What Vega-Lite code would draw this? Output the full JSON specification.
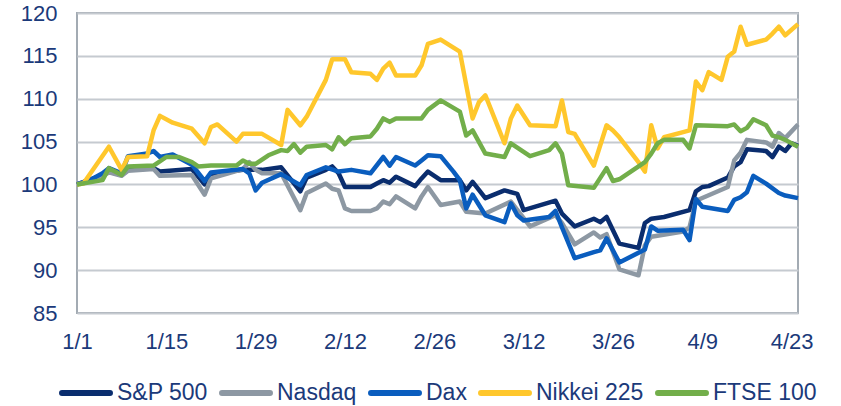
{
  "$schema": "https://vega.github.io/schema/vega-lite/v6.json",
  "width": 721,
  "height": 300,
  "autosize": {"type": "none"},
  "padding": {"left": 77, "top": 13, "right": 43, "bottom": 93},
  "background": "white",
  "config": {"view": {"stroke": "#A3ABB3", "strokeWidth": 2}, "font": "Liberation Sans"},
  "data": {"values": [
    {"s":"S&P 500","d":"2025-01-01","v":100},{"s":"S&P 500","d":"2025-01-05","v":101.1},{"s":"S&P 500","d":"2025-01-06","v":101.5},{"s":"S&P 500","d":"2025-01-08","v":101.1},{"s":"S&P 500","d":"2025-01-09","v":101.7},{"s":"S&P 500","d":"2025-01-13","v":101.9},{"s":"S&P 500","d":"2025-01-14","v":101.5},{"s":"S&P 500","d":"2025-01-19","v":101.8},{"s":"S&P 500","d":"2025-01-21","v":100.0},{"s":"S&P 500","d":"2025-01-22","v":101.2},{"s":"S&P 500","d":"2025-01-27","v":101.7},{"s":"S&P 500","d":"2025-01-30","v":101.7},{"s":"S&P 500","d":"2025-02-02","v":102.0},{"s":"S&P 500","d":"2025-02-05","v":99.2},{"s":"S&P 500","d":"2025-02-06","v":100.8},{"s":"S&P 500","d":"2025-02-09","v":101.7},{"s":"S&P 500","d":"2025-02-10","v":102.1},{"s":"S&P 500","d":"2025-02-11","v":101.3},{"s":"S&P 500","d":"2025-02-12","v":99.7},{"s":"S&P 500","d":"2025-02-16","v":99.7},{"s":"S&P 500","d":"2025-02-17","v":100.1},{"s":"S&P 500","d":"2025-02-18","v":100.5},{"s":"S&P 500","d":"2025-02-19","v":100.2},{"s":"S&P 500","d":"2025-02-20","v":100.9},{"s":"S&P 500","d":"2025-02-23","v":99.8},{"s":"S&P 500","d":"2025-02-24","v":100.7},{"s":"S&P 500","d":"2025-02-25","v":101.5},{"s":"S&P 500","d":"2025-02-27","v":100.5},{"s":"S&P 500","d":"2025-03-02","v":100.5},{"s":"S&P 500","d":"2025-03-03","v":99.3},{"s":"S&P 500","d":"2025-03-04","v":100.3},{"s":"S&P 500","d":"2025-03-06","v":98.4},{"s":"S&P 500","d":"2025-03-09","v":99.3},{"s":"S&P 500","d":"2025-03-11","v":98.9},{"s":"S&P 500","d":"2025-03-12","v":97.0},{"s":"S&P 500","d":"2025-03-17","v":98.1},{"s":"S&P 500","d":"2025-03-18","v":96.6},{"s":"S&P 500","d":"2025-03-20","v":95.1},{"s":"S&P 500","d":"2025-03-23","v":96.0},{"s":"S&P 500","d":"2025-03-24","v":95.6},{"s":"S&P 500","d":"2025-03-25","v":96.2},{"s":"S&P 500","d":"2025-03-27","v":93.1},{"s":"S&P 500","d":"2025-03-30","v":92.6},{"s":"S&P 500","d":"2025-03-31","v":95.5},{"s":"S&P 500","d":"2025-04-01","v":96.0},{"s":"S&P 500","d":"2025-04-03","v":96.2},{"s":"S&P 500","d":"2025-04-07","v":97.0},{"s":"S&P 500","d":"2025-04-08","v":99.2},{"s":"S&P 500","d":"2025-04-09","v":99.7},{"s":"S&P 500","d":"2025-04-10","v":99.8},{"s":"S&P 500","d":"2025-04-13","v":100.8},{"s":"S&P 500","d":"2025-04-14","v":102.1},{"s":"S&P 500","d":"2025-04-15","v":102.6},{"s":"S&P 500","d":"2025-04-16","v":104.1},{"s":"S&P 500","d":"2025-04-19","v":103.9},{"s":"S&P 500","d":"2025-04-20","v":103.2},{"s":"S&P 500","d":"2025-04-21","v":104.4},{"s":"S&P 500","d":"2025-04-22","v":103.9},{"s":"S&P 500","d":"2025-04-23","v":104.8},{"s":"S&P 500","d":"2025-04-24","v":104.5},

    {"s":"Nasdaq","d":"2025-01-01","v":100},{"s":"Nasdaq","d":"2025-01-05","v":101.0},{"s":"Nasdaq","d":"2025-01-06","v":101.4},{"s":"Nasdaq","d":"2025-01-08","v":101.0},{"s":"Nasdaq","d":"2025-01-09","v":101.6},{"s":"Nasdaq","d":"2025-01-13","v":101.8},{"s":"Nasdaq","d":"2025-01-14","v":101.0},{"s":"Nasdaq","d":"2025-01-19","v":101.1},{"s":"Nasdaq","d":"2025-01-21","v":98.8},{"s":"Nasdaq","d":"2025-01-22","v":100.7},{"s":"Nasdaq","d":"2025-01-27","v":101.8},{"s":"Nasdaq","d":"2025-01-28","v":102.6},{"s":"Nasdaq","d":"2025-01-29","v":101.7},{"s":"Nasdaq","d":"2025-01-30","v":101.3},{"s":"Nasdaq","d":"2025-02-02","v":101.3},{"s":"Nasdaq","d":"2025-02-05","v":97.0},{"s":"Nasdaq","d":"2025-02-06","v":99.0},{"s":"Nasdaq","d":"2025-02-09","v":100.1},{"s":"Nasdaq","d":"2025-02-10","v":99.5},{"s":"Nasdaq","d":"2025-02-11","v":99.3},{"s":"Nasdaq","d":"2025-02-12","v":97.2},{"s":"Nasdaq","d":"2025-02-13","v":96.9},{"s":"Nasdaq","d":"2025-02-16","v":96.9},{"s":"Nasdaq","d":"2025-02-17","v":97.2},{"s":"Nasdaq","d":"2025-02-18","v":98.0},{"s":"Nasdaq","d":"2025-02-19","v":97.7},{"s":"Nasdaq","d":"2025-02-20","v":98.6},{"s":"Nasdaq","d":"2025-02-23","v":97.2},{"s":"Nasdaq","d":"2025-02-24","v":98.6},{"s":"Nasdaq","d":"2025-02-25","v":99.7},{"s":"Nasdaq","d":"2025-02-27","v":97.6},{"s":"Nasdaq","d":"2025-03-02","v":98.0},{"s":"Nasdaq","d":"2025-03-03","v":96.8},{"s":"Nasdaq","d":"2025-03-06","v":96.6},{"s":"Nasdaq","d":"2025-03-10","v":98.0},{"s":"Nasdaq","d":"2025-03-13","v":95.1},{"s":"Nasdaq","d":"2025-03-17","v":96.4},{"s":"Nasdaq","d":"2025-03-18","v":95.5},{"s":"Nasdaq","d":"2025-03-20","v":93.0},{"s":"Nasdaq","d":"2025-03-23","v":94.4},{"s":"Nasdaq","d":"2025-03-24","v":93.8},{"s":"Nasdaq","d":"2025-03-25","v":94.2},{"s":"Nasdaq","d":"2025-03-27","v":90.1},{"s":"Nasdaq","d":"2025-03-30","v":89.4},{"s":"Nasdaq","d":"2025-03-31","v":92.9},{"s":"Nasdaq","d":"2025-04-01","v":93.9},{"s":"Nasdaq","d":"2025-04-06","v":94.5},{"s":"Nasdaq","d":"2025-04-07","v":95.0},{"s":"Nasdaq","d":"2025-04-08","v":98.1},{"s":"Nasdaq","d":"2025-04-13","v":99.7},{"s":"Nasdaq","d":"2025-04-14","v":102.8},{"s":"Nasdaq","d":"2025-04-15","v":103.7},{"s":"Nasdaq","d":"2025-04-16","v":105.2},{"s":"Nasdaq","d":"2025-04-19","v":104.9},{"s":"Nasdaq","d":"2025-04-20","v":104.4},{"s":"Nasdaq","d":"2025-04-21","v":106.0},{"s":"Nasdaq","d":"2025-04-22","v":105.4},{"s":"Nasdaq","d":"2025-04-24","v":107.0},

    {"s":"Dax","d":"2025-01-01","v":100},{"s":"Dax","d":"2025-01-03","v":100.5},{"s":"Dax","d":"2025-01-05","v":101.3},{"s":"Dax","d":"2025-01-06","v":101.9},{"s":"Dax","d":"2025-01-08","v":101.3},{"s":"Dax","d":"2025-01-09","v":103.3},{"s":"Dax","d":"2025-01-12","v":103.6},{"s":"Dax","d":"2025-01-13","v":103.9},{"s":"Dax","d":"2025-01-14","v":103.2},{"s":"Dax","d":"2025-01-16","v":103.5},{"s":"Dax","d":"2025-01-19","v":102.3},{"s":"Dax","d":"2025-01-21","v":100.4},{"s":"Dax","d":"2025-01-22","v":101.4},{"s":"Dax","d":"2025-01-27","v":101.8},{"s":"Dax","d":"2025-01-28","v":101.3},{"s":"Dax","d":"2025-01-29","v":99.3},{"s":"Dax","d":"2025-01-30","v":100.2},{"s":"Dax","d":"2025-02-02","v":101.2},{"s":"Dax","d":"2025-02-05","v":99.9},{"s":"Dax","d":"2025-02-06","v":101.1},{"s":"Dax","d":"2025-02-09","v":102.0},{"s":"Dax","d":"2025-02-11","v":101.5},{"s":"Dax","d":"2025-02-13","v":101.7},{"s":"Dax","d":"2025-02-16","v":101.3},{"s":"Dax","d":"2025-02-18","v":103.2},{"s":"Dax","d":"2025-02-19","v":102.2},{"s":"Dax","d":"2025-02-20","v":103.2},{"s":"Dax","d":"2025-02-23","v":102.2},{"s":"Dax","d":"2025-02-24","v":102.8},{"s":"Dax","d":"2025-02-25","v":103.4},{"s":"Dax","d":"2025-02-27","v":103.3},{"s":"Dax","d":"2025-03-01","v":101.5},{"s":"Dax","d":"2025-03-02","v":100.5},{"s":"Dax","d":"2025-03-03","v":97.2},{"s":"Dax","d":"2025-03-04","v":98.8},{"s":"Dax","d":"2025-03-06","v":96.4},{"s":"Dax","d":"2025-03-09","v":95.6},{"s":"Dax","d":"2025-03-10","v":97.8},{"s":"Dax","d":"2025-03-11","v":96.4},{"s":"Dax","d":"2025-03-12","v":95.8},{"s":"Dax","d":"2025-03-16","v":96.2},{"s":"Dax","d":"2025-03-17","v":96.9},{"s":"Dax","d":"2025-03-18","v":95.0},{"s":"Dax","d":"2025-03-20","v":91.4},{"s":"Dax","d":"2025-03-23","v":92.1},{"s":"Dax","d":"2025-03-24","v":92.3},{"s":"Dax","d":"2025-03-25","v":93.7},{"s":"Dax","d":"2025-03-27","v":90.9},{"s":"Dax","d":"2025-03-31","v":92.4},{"s":"Dax","d":"2025-04-01","v":95.1},{"s":"Dax","d":"2025-04-02","v":94.6},{"s":"Dax","d":"2025-04-06","v":94.7},{"s":"Dax","d":"2025-04-07","v":93.5},{"s":"Dax","d":"2025-04-08","v":98.3},{"s":"Dax","d":"2025-04-09","v":97.4},{"s":"Dax","d":"2025-04-13","v":96.9},{"s":"Dax","d":"2025-04-14","v":98.2},{"s":"Dax","d":"2025-04-15","v":98.5},{"s":"Dax","d":"2025-04-16","v":99.1},{"s":"Dax","d":"2025-04-17","v":101.0},{"s":"Dax","d":"2025-04-19","v":100.1},{"s":"Dax","d":"2025-04-21","v":99.0},{"s":"Dax","d":"2025-04-22","v":98.7},{"s":"Dax","d":"2025-04-24","v":98.4},

    {"s":"Nikkei 225","d":"2025-01-01","v":100},{"s":"Nikkei 225","d":"2025-01-02","v":100.1},{"s":"Nikkei 225","d":"2025-01-06","v":104.4},{"s":"Nikkei 225","d":"2025-01-08","v":101.7},{"s":"Nikkei 225","d":"2025-01-09","v":103.2},{"s":"Nikkei 225","d":"2025-01-12","v":103.3},{"s":"Nikkei 225","d":"2025-01-13","v":106.3},{"s":"Nikkei 225","d":"2025-01-14","v":108.0},{"s":"Nikkei 225","d":"2025-01-16","v":107.2},{"s":"Nikkei 225","d":"2025-01-19","v":106.5},{"s":"Nikkei 225","d":"2025-01-21","v":104.8},{"s":"Nikkei 225","d":"2025-01-22","v":106.7},{"s":"Nikkei 225","d":"2025-01-23","v":107.0},{"s":"Nikkei 225","d":"2025-01-26","v":105.0},{"s":"Nikkei 225","d":"2025-01-27","v":105.9},{"s":"Nikkei 225","d":"2025-01-30","v":105.9},{"s":"Nikkei 225","d":"2025-02-02","v":104.6},{"s":"Nikkei 225","d":"2025-02-03","v":108.7},{"s":"Nikkei 225","d":"2025-02-05","v":106.9},{"s":"Nikkei 225","d":"2025-02-06","v":107.9},{"s":"Nikkei 225","d":"2025-02-09","v":112.2},{"s":"Nikkei 225","d":"2025-02-10","v":114.6},{"s":"Nikkei 225","d":"2025-02-12","v":114.6},{"s":"Nikkei 225","d":"2025-02-13","v":113.1},{"s":"Nikkei 225","d":"2025-02-16","v":112.9},{"s":"Nikkei 225","d":"2025-02-17","v":112.2},{"s":"Nikkei 225","d":"2025-02-18","v":113.5},{"s":"Nikkei 225","d":"2025-02-19","v":114.2},{"s":"Nikkei 225","d":"2025-02-20","v":112.7},{"s":"Nikkei 225","d":"2025-02-23","v":112.7},{"s":"Nikkei 225","d":"2025-02-24","v":113.9},{"s":"Nikkei 225","d":"2025-02-25","v":116.4},{"s":"Nikkei 225","d":"2025-02-27","v":116.9},{"s":"Nikkei 225","d":"2025-03-02","v":115.5},{"s":"Nikkei 225","d":"2025-03-04","v":107.7},{"s":"Nikkei 225","d":"2025-03-05","v":109.6},{"s":"Nikkei 225","d":"2025-03-06","v":110.4},{"s":"Nikkei 225","d":"2025-03-09","v":104.8},{"s":"Nikkei 225","d":"2025-03-10","v":107.7},{"s":"Nikkei 225","d":"2025-03-11","v":109.2},{"s":"Nikkei 225","d":"2025-03-13","v":106.9},{"s":"Nikkei 225","d":"2025-03-17","v":106.8},{"s":"Nikkei 225","d":"2025-03-18","v":109.8},{"s":"Nikkei 225","d":"2025-03-19","v":106.1},{"s":"Nikkei 225","d":"2025-03-20","v":105.9},{"s":"Nikkei 225","d":"2025-03-23","v":102.2},{"s":"Nikkei 225","d":"2025-03-25","v":106.9},{"s":"Nikkei 225","d":"2025-03-26","v":106.3},{"s":"Nikkei 225","d":"2025-03-27","v":105.5},{"s":"Nikkei 225","d":"2025-03-30","v":102.6},{"s":"Nikkei 225","d":"2025-03-31","v":101.5},{"s":"Nikkei 225","d":"2025-04-01","v":106.9},{"s":"Nikkei 225","d":"2025-04-02","v":104.2},{"s":"Nikkei 225","d":"2025-04-03","v":105.5},{"s":"Nikkei 225","d":"2025-04-06","v":106.1},{"s":"Nikkei 225","d":"2025-04-07","v":106.3},{"s":"Nikkei 225","d":"2025-04-08","v":112.0},{"s":"Nikkei 225","d":"2025-04-09","v":111.0},{"s":"Nikkei 225","d":"2025-04-10","v":113.1},{"s":"Nikkei 225","d":"2025-04-12","v":112.2},{"s":"Nikkei 225","d":"2025-04-13","v":114.9},{"s":"Nikkei 225","d":"2025-04-14","v":115.5},{"s":"Nikkei 225","d":"2025-04-15","v":118.4},{"s":"Nikkei 225","d":"2025-04-16","v":116.3},{"s":"Nikkei 225","d":"2025-04-19","v":116.9},{"s":"Nikkei 225","d":"2025-04-20","v":117.6},{"s":"Nikkei 225","d":"2025-04-21","v":118.4},{"s":"Nikkei 225","d":"2025-04-22","v":117.4},{"s":"Nikkei 225","d":"2025-04-24","v":118.7},

    {"s":"FTSE 100","d":"2025-01-01","v":100},{"s":"FTSE 100","d":"2025-01-05","v":100.5},{"s":"FTSE 100","d":"2025-01-06","v":101.9},{"s":"FTSE 100","d":"2025-01-08","v":101.1},{"s":"FTSE 100","d":"2025-01-09","v":102.1},{"s":"FTSE 100","d":"2025-01-13","v":102.2},{"s":"FTSE 100","d":"2025-01-15","v":103.2},{"s":"FTSE 100","d":"2025-01-17","v":103.2},{"s":"FTSE 100","d":"2025-01-19","v":102.6},{"s":"FTSE 100","d":"2025-01-20","v":102.1},{"s":"FTSE 100","d":"2025-01-22","v":102.2},{"s":"FTSE 100","d":"2025-01-26","v":102.2},{"s":"FTSE 100","d":"2025-01-27","v":102.8},{"s":"FTSE 100","d":"2025-01-28","v":102.4},{"s":"FTSE 100","d":"2025-01-29","v":102.4},{"s":"FTSE 100","d":"2025-01-31","v":103.4},{"s":"FTSE 100","d":"2025-02-02","v":104.0},{"s":"FTSE 100","d":"2025-02-03","v":103.9},{"s":"FTSE 100","d":"2025-02-04","v":104.7},{"s":"FTSE 100","d":"2025-02-05","v":103.7},{"s":"FTSE 100","d":"2025-02-06","v":104.4},{"s":"FTSE 100","d":"2025-02-09","v":104.6},{"s":"FTSE 100","d":"2025-02-10","v":104.1},{"s":"FTSE 100","d":"2025-02-11","v":105.5},{"s":"FTSE 100","d":"2025-02-12","v":104.7},{"s":"FTSE 100","d":"2025-02-13","v":105.4},{"s":"FTSE 100","d":"2025-02-16","v":105.6},{"s":"FTSE 100","d":"2025-02-17","v":106.5},{"s":"FTSE 100","d":"2025-02-18","v":107.7},{"s":"FTSE 100","d":"2025-02-19","v":107.3},{"s":"FTSE 100","d":"2025-02-20","v":107.7},{"s":"FTSE 100","d":"2025-02-24","v":107.7},{"s":"FTSE 100","d":"2025-02-25","v":108.7},{"s":"FTSE 100","d":"2025-02-27","v":109.8},{"s":"FTSE 100","d":"2025-03-02","v":108.5},{"s":"FTSE 100","d":"2025-03-03","v":105.7},{"s":"FTSE 100","d":"2025-03-04","v":106.3},{"s":"FTSE 100","d":"2025-03-06","v":103.6},{"s":"FTSE 100","d":"2025-03-09","v":103.2},{"s":"FTSE 100","d":"2025-03-10","v":104.8},{"s":"FTSE 100","d":"2025-03-13","v":103.3},{"s":"FTSE 100","d":"2025-03-16","v":104.0},{"s":"FTSE 100","d":"2025-03-17","v":104.8},{"s":"FTSE 100","d":"2025-03-18","v":103.6},{"s":"FTSE 100","d":"2025-03-19","v":99.9},{"s":"FTSE 100","d":"2025-03-23","v":99.6},{"s":"FTSE 100","d":"2025-03-25","v":101.9},{"s":"FTSE 100","d":"2025-03-26","v":100.4},{"s":"FTSE 100","d":"2025-03-27","v":100.6},{"s":"FTSE 100","d":"2025-03-31","v":102.6},{"s":"FTSE 100","d":"2025-04-01","v":103.6},{"s":"FTSE 100","d":"2025-04-02","v":104.8},{"s":"FTSE 100","d":"2025-04-03","v":105.2},{"s":"FTSE 100","d":"2025-04-06","v":105.2},{"s":"FTSE 100","d":"2025-04-07","v":104.2},{"s":"FTSE 100","d":"2025-04-08","v":106.9},{"s":"FTSE 100","d":"2025-04-13","v":106.8},{"s":"FTSE 100","d":"2025-04-14","v":107.0},{"s":"FTSE 100","d":"2025-04-15","v":106.2},{"s":"FTSE 100","d":"2025-04-16","v":106.6},{"s":"FTSE 100","d":"2025-04-17","v":107.6},{"s":"FTSE 100","d":"2025-04-19","v":106.9},{"s":"FTSE 100","d":"2025-04-20","v":105.7},{"s":"FTSE 100","d":"2025-04-21","v":105.5},{"s":"FTSE 100","d":"2025-04-22","v":105.2},{"s":"FTSE 100","d":"2025-04-24","v":104.4}
  ]},
  "mark": {"type": "line", "strokeWidth": 4.5, "strokeJoin": "round"},
  "encoding": {
    "x": {
      "field": "d", "type": "temporal",
      "scale": {"type": "utc", "domain": [{"year": 2025, "month": 1, "date": 1, "utc": true}, {"year": 2025, "month": 4, "date": 24, "utc": true}]},
      "axis": {
        "title": null,
        "values": [
          {"year": 2025, "month": 1, "date": 1, "utc": true},
          {"year": 2025, "month": 1, "date": 15, "utc": true},
          {"year": 2025, "month": 1, "date": 29, "utc": true},
          {"year": 2025, "month": 2, "date": 12, "utc": true},
          {"year": 2025, "month": 2, "date": 26, "utc": true},
          {"year": 2025, "month": 3, "date": 12, "utc": true},
          {"year": 2025, "month": 3, "date": 26, "utc": true},
          {"year": 2025, "month": 4, "date": 9, "utc": true},
          {"year": 2025, "month": 4, "date": 23, "utc": true}
        ],
        "format": "%-m/%-d",
        "grid": false, "domain": false, "ticks": false,
        "labelFontSize": 22, "labelColor": "#1B3A7A", "labelPadding": 18,
        "labelOverlap": false, "labelFlush": false
      }
    },
    "y": {
      "field": "v", "type": "quantitative",
      "scale": {"domain": [85, 120], "nice": false, "zero": false},
      "axis": {
        "title": null,
        "values": [85, 90, 95, 100, 105, 110, 115, 120],
        "grid": true, "gridColor": "#C5CAD0", "gridWidth": 2,
        "domain": false, "ticks": false,
        "labelFontSize": 22, "labelColor": "#1B3A7A", "labelPadding": 20
      }
    },
    "color": {
      "field": "s", "type": "nominal",
      "scale": {
        "domain": ["S&P 500", "Nasdaq", "Dax", "Nikkei 225", "FTSE 100"],
        "range": ["#0A2D6E", "#8D98A3", "#0A5DBE", "#FFC72C", "#72AE4A"]
      },
      "legend": {
        "orient": "none", "legendX": -18, "legendY": 353,
        "direction": "horizontal", "title": null,
        "symbolType": "stroke", "symbolSize": 2300, "symbolStrokeWidth": 6,
        "labelFontSize": 23, "labelColor": "#1B3A7A", "labelOffset": 4,
        "columnPadding": 2, "labelLimit": 300,
        "encode": {"symbols": {"update": {"strokeCap": {"value": "round"}}}}
      }
    }
  }
}
